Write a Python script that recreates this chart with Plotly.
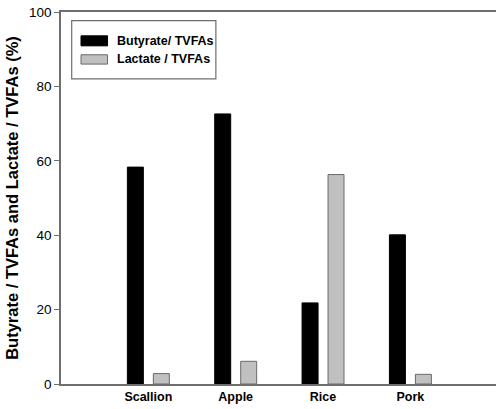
import plotly.graph_objects as go

# Share of butyrate and lactate in total volatile fatty acids, by substrate
categories = ["Scallion", "Apple", "Rice", "Pork"]
butyrate_pct = [58.3, 72.6, 21.8, 40.1]
lactate_pct = [2.8, 6.1, 56.3, 2.6]
series_names = ["Butyrate/ TVFAs", "Lactate / TVFAs"]
y_ticks = [0, 20, 40, 60, 80, 100]

FONT = "Liberation Sans, Arial, sans-serif"
BLACK = "#000000"
GREY = "#c0c0c0"
AXIS = "#6e6e6e"

fig = go.Figure()
fig.add_trace(go.Bar(
    x=categories, y=butyrate_pct, name=series_names[0],
    marker=dict(color=BLACK, line=dict(color=BLACK, width=1)),
    showlegend=False,
))
fig.add_trace(go.Bar(
    x=categories, y=lactate_pct, name=series_names[1],
    marker=dict(color=GREY, line=dict(color="#6a6a6a", width=1)),
    showlegend=False,
))

# Boxed legend with wide swatches
legend_box = dict(x0=0.0246, x1=0.356, y0=0.820, y1=0.977)
swatches = [(0.909, 0.936, BLACK, BLACK), (0.860, 0.885, GREY, "#6a6a6a")]
label_y = [0.923, 0.873]
shapes = [dict(type="rect", xref="paper", yref="paper", **legend_box,
               line=dict(color=AXIS, width=1.2), fillcolor="rgba(0,0,0,0)")]
for (y0, y1, fill, edge) in swatches:
    shapes.append(dict(type="rect", xref="paper", yref="paper",
                       x0=0.046, x1=0.107, y0=y0, y1=y1,
                       fillcolor=fill, line=dict(color=edge, width=1)))
annotations = [dict(xref="paper", yref="paper", x=0.124, y=ly, text=f"<b>{name}</b>",
                    showarrow=False, xanchor="left", yanchor="middle",
                    font=dict(family=FONT, size=12.5, color=BLACK))
               for name, ly in zip(series_names, label_y)]

fig.update_layout(
    width=496, height=409,
    margin=dict(l=61, r=0, t=12, b=25),
    paper_bgcolor="white", plot_bgcolor="white",
    barmode="group", bargap=0.405, bargroupgap=0.385,
    shapes=shapes, annotations=annotations,
    font=dict(family=FONT, color=BLACK),
)
fig.update_xaxes(
    type="category", range=[-1, 3.98],
    showline=True, linecolor=AXIS, linewidth=1.5, mirror=True,
    ticks="", showgrid=False, zeroline=False,
    tickfont=dict(family=FONT, size=12.5),
    tickprefix="<b>", ticksuffix="</b>",
)
fig.update_yaxes(
    range=[0, 100], tickvals=y_ticks,
    showline=True, linecolor=AXIS, linewidth=1.5,
    ticks="outside", ticklen=5, tickcolor=AXIS,
    showgrid=False, zeroline=False,
    tickfont=dict(family=FONT, size=13.5),
    title=dict(text="<b>Butyrate / TVFAs and Lactate / TVFAs (%)</b>",
               font=dict(family=FONT, size=16.5), standoff=6),
)

fig.write_html("out.html")
